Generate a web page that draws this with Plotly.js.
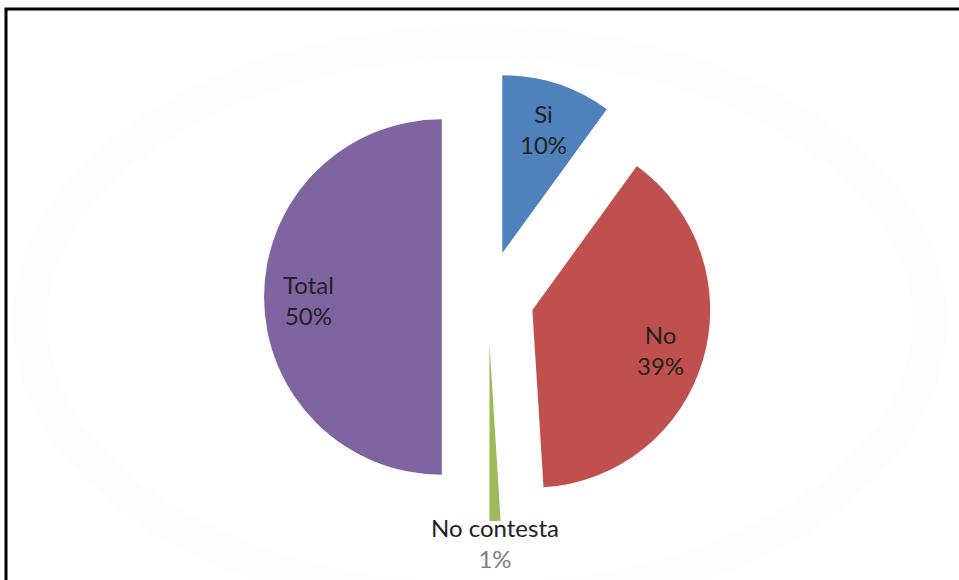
<!DOCTYPE html>
<html>
<head>
<meta charset="utf-8">
<script src="https://cdn.plot.ly/plotly-3.0.1.min.js"></script>
<style>html,body{margin:0;padding:0;background:#fff;}#chart{width:959px;height:580px;}</style>
</head>
<body>
<div id="chart"></div>
<script>
const categories = ["Si", "No", "No contesta", "Total"];
const values = [10, 39, 1, 50];
const sliceColors = ["#4F81BD", "#C0504D", "#9BBB59", "#8064A2"];
const percentColors = ["#222222", "#222222", "#808080", "#222222"];
const labelInside = [true, true, false, true];

const W = 959, H = 580;
const PULL = 0.26;
// pie box in pixels
const box = { x0: 264, x1: 712, y0: 73, y1: 521 };
const dom = { x: [box.x0 / W, box.x1 / W], y: [1 - box.y1 / H, 1 - box.y0 / H] };

const trace = {
  type: "pie",
  labels: categories,
  values: values,
  sort: false,
  direction: "clockwise",
  rotation: 0,
  pull: PULL,
  marker: { colors: sliceColors, line: { width: 0 } },
  textinfo: "none",
  hoverinfo: "label+percent",
  showlegend: false,
  automargin: false,
  domain: dom
};

// label annotations derived from the data and the pie geometry
const cx = (box.x0 + box.x1) / 2, cy = (box.y0 + box.y1) / 2;
const r = (box.x1 - box.x0) / (2 + 2 * PULL);
const total = values.reduce((a, b) => a + b, 0);
const font = { family: "Lato, 'Open Sans', sans-serif", size: 24, color: "#222222" };
const annotations = [];
let cum = 0;
values.forEach((v, i) => {
  const mid = (cum + v / 2) / total * 2 * Math.PI;
  cum += v;
  const sx = Math.sin(mid), sy = -Math.cos(mid);
  const pct = Math.round(v / total * 100) + "%";
  const text = categories[i] + "<br><span style='color:" + percentColors[i] + "'>" + pct + "</span>";
  if (labelInside[i]) {
    const dist = r * PULL + r * 0.75;
    annotations.push({
      xref: "paper", yref: "paper", x: (cx + sx * dist) / W, y: 1 - (cy + sy * dist) / H,
      xanchor: "center", yanchor: "middle", yshift: -3, showarrow: false, text: text, font: font, align: "center"
    });
  } else {
    const dist = r * (1 + PULL);
    annotations.push({
      xref: "paper", yref: "paper", x: (cx + sx * dist) / W, y: 1 - (cy + sy * dist) / H,
      xanchor: "center", yanchor: "top", yshift: 10, showarrow: false, text: text, font: font, align: "center"
    });
  }
});

const layout = {
  width: W, height: H,
  margin: { l: 0, r: 0, t: 0, b: 0 },
  paper_bgcolor: "#ffffff",
  showlegend: false,
  annotations: annotations,
  shapes: [
    { type: "circle", xref: "paper", yref: "paper", layer: "below",
      x0: 30 / W, x1: 930 / W, y0: 1 - 600 / H, y1: 1 - 42 / H,
      fillcolor: "rgba(0,0,0,0)", line: { width: 36, color: "rgba(0,0,0,0.006)" } },
    { type: "path", xref: "paper", yref: "paper",
      path: "M " + (6 / W) + " 0 L " + (6 / W) + " " + (1 - 9 / H) + " L 1 " + (1 - 9 / H),
      line: { color: "#000000", width: 3 } }
  ]
};

Plotly.newPlot("chart", [trace], layout, { displayModeBar: false, staticPlot: true });
</script>
</body>
</html>
